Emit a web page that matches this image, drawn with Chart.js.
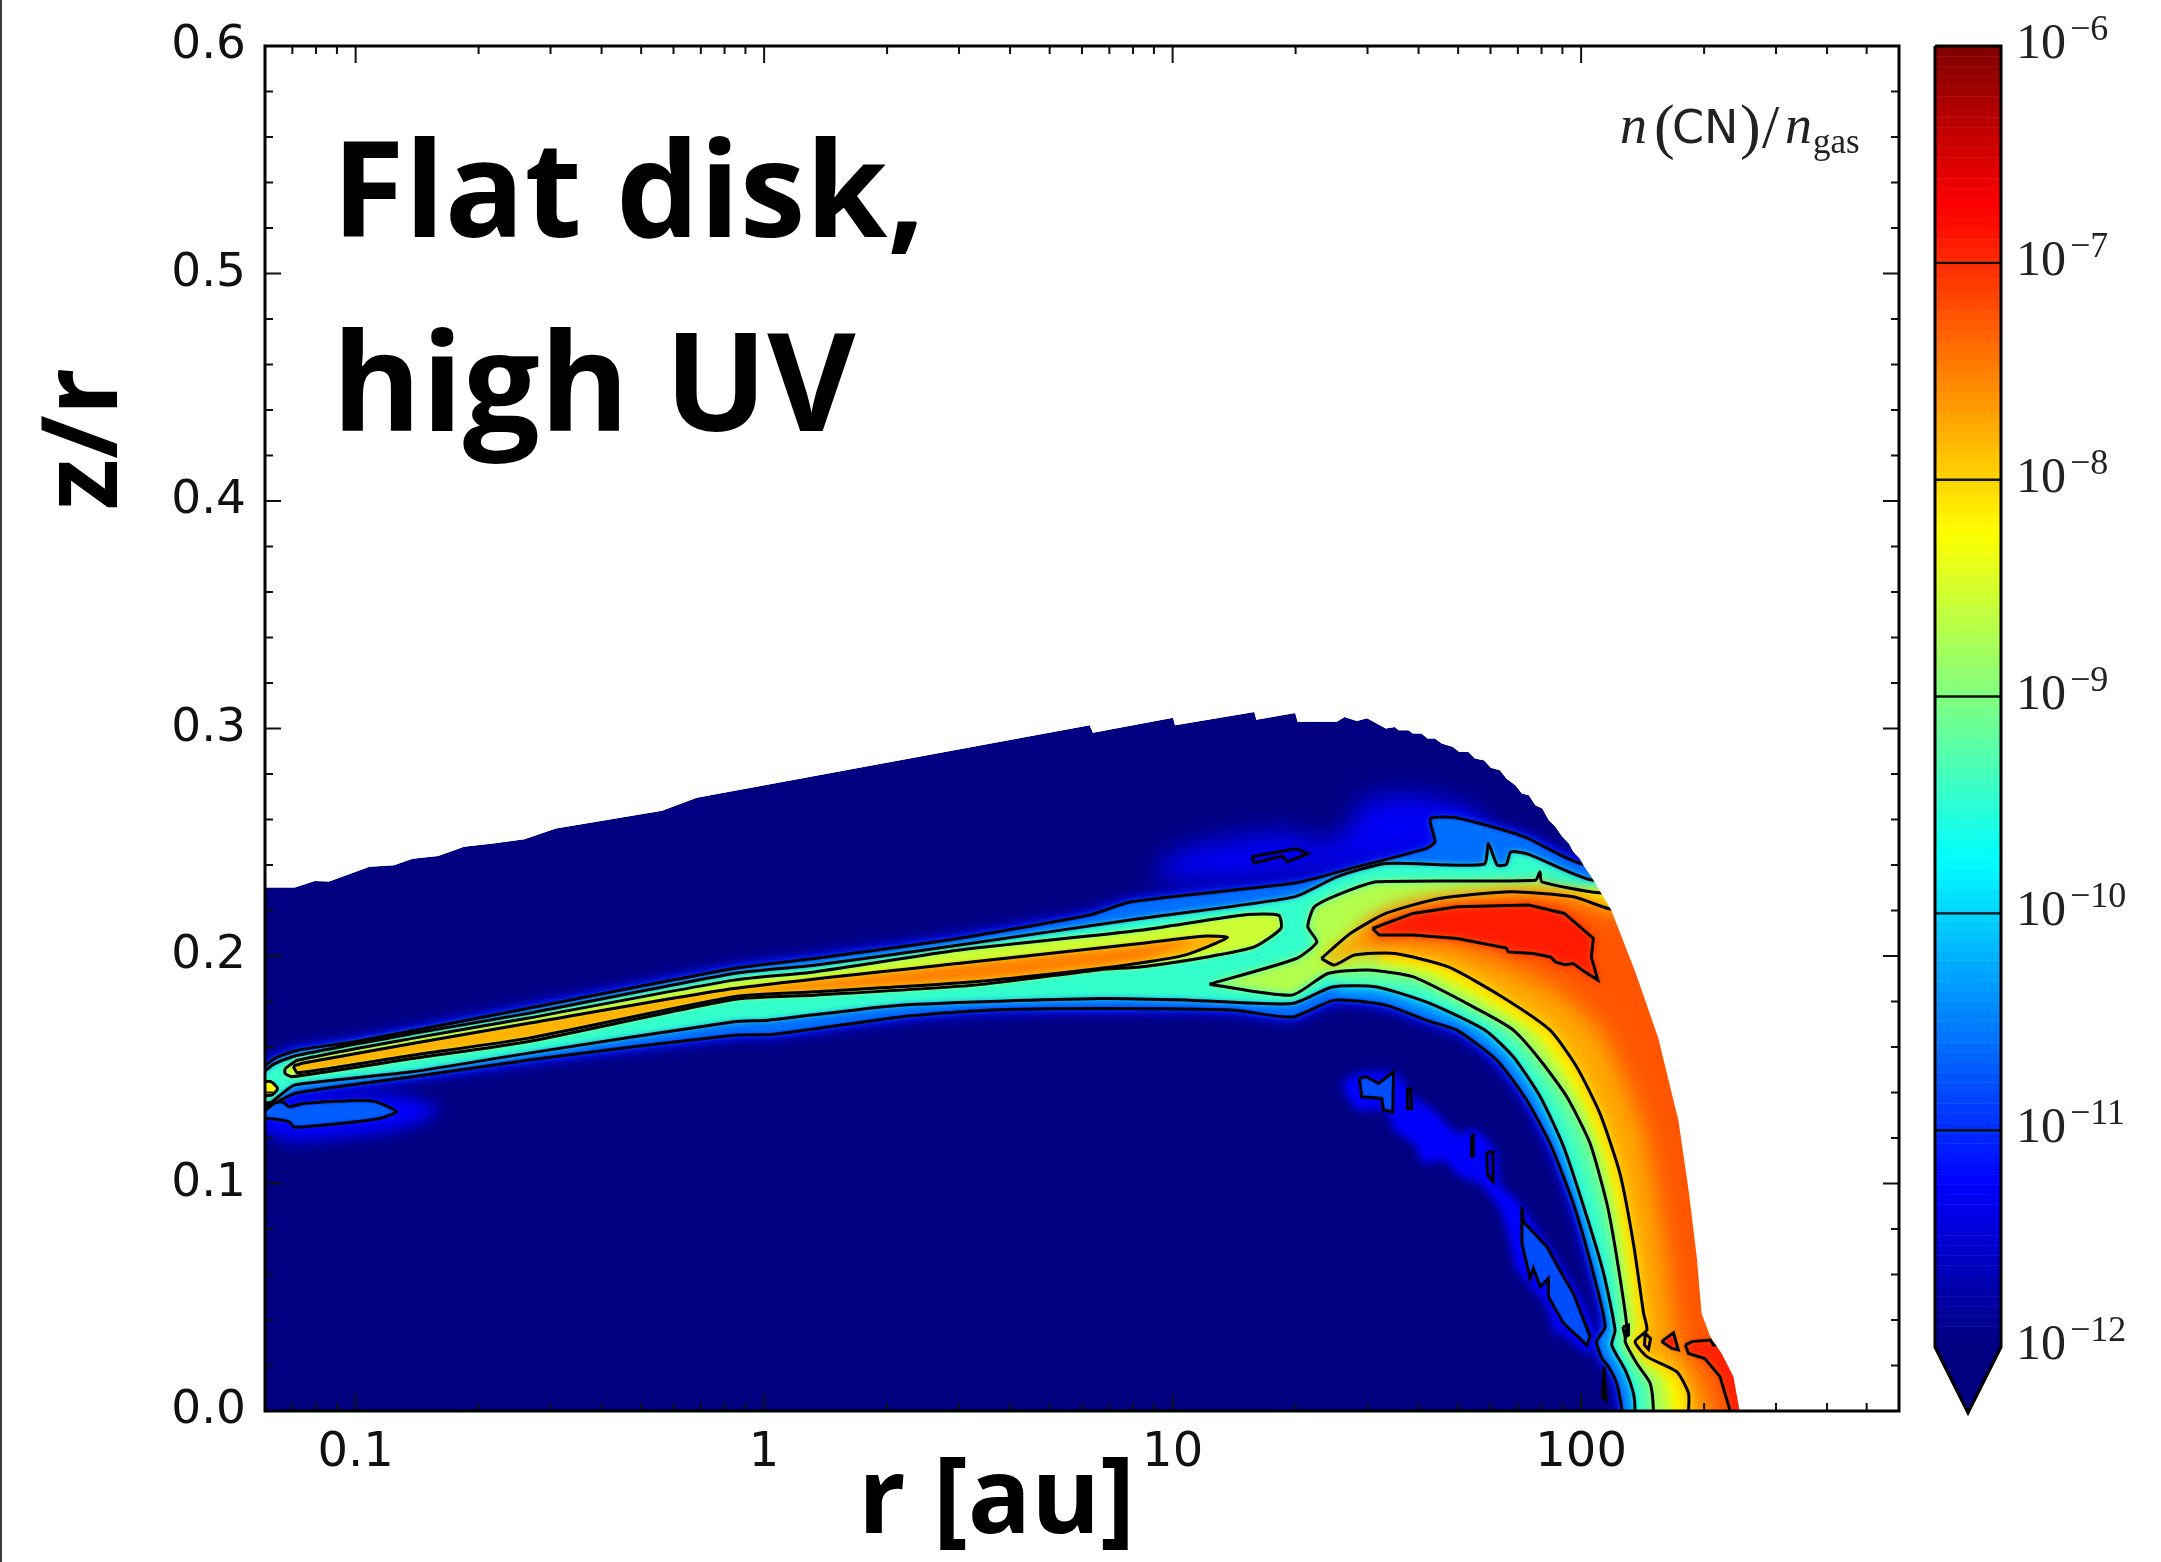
<!DOCTYPE html>
<html>
<head>
    <meta charset="UTF-8">
    <title>CN abundance</title>
    <script src="https://cdn.jsdelivr.net/npm/chart.js@4/dist/chart.umd.min.js"></script>
    <style>
        body { margin: 0; background: #fff; }
        canvas { position: absolute; top: 0; }
        #leftEdge { position: absolute; left: 0; top: 0; width: 2px; height: 1562px; background: #3c3c3c; }
    </style>
</head>
<body>
<canvas id="mainChart" width="2161" height="1562" style="left:0"></canvas>
<canvas id="barChart" width="261" height="1562" style="left:1900px"></canvas>
<div id="leftEdge"></div>

<script>
    // axis ticks
    var xMajorTicks = [0.1, 1, 10, 100];
    var xMinorTicks = [0.06, 0.07, 0.08, 0.09, 0.2, 0.3, 0.4, 0.5, 0.6, 0.7, 0.8, 0.9, 2, 3, 4, 5, 6, 7, 8, 9,
        20, 30, 40, 50, 60, 70, 80, 90, 200, 300, 400, 500, 600];
    var yMajorTicks = [0, 0.1, 0.2, 0.3, 0.4, 0.5, 0.6];
    var yMinorTicks = [0.02, 0.04, 0.06, 0.08, 0.12, 0.14, 0.16, 0.18, 0.22, 0.24, 0.26, 0.28, 0.32, 0.34, 0.36, 0.38,
        0.42, 0.44, 0.46, 0.48, 0.52, 0.54, 0.56, 0.58];
    var barExponents = [-6, -7, -8, -9, -10, -11, -12];
    var barLines = [-7, -8, -9, -10, -11];

    // all contours are [log10(r), z/r]
    var diskEdge = [[-1.3,.2301],[-1.149,.2301],[-1.1,.233],[-1.065,.2327],[-.966,.2392],[-.906,.2399],[-.861,.2428],
        [-.798,.244],[-.735,.248],[-.664,.2494],[-.587,.2513],[-.51,.256],[-.411,.259],[-.25,.2638],[-.165,.2696],
        [.797,.3014],[.805,.2981],[1.001,.3047],[1.006,.3014],[1.2,.3073],[1.205,.3039],[1.3,.3068],[1.306,.303],
        [1.402,.303],[1.421,.3051],[1.451,.3033],[1.476,.3045],[1.522,.3],[1.544,.3007],[1.553,.2992],[1.577,.2992],
        [1.588,.2978],[1.609,.2978],[1.624,.2956],[1.642,.2956],[1.659,.2934],[1.686,.2919],[1.702,.2897],[1.724,.2897],
        [1.74,.2868],[1.762,.286],[1.779,.2828],[1.801,.2817],[1.817,.278],[1.839,.2751],[1.855,.2714],[1.872,.2707],
        [1.888,.2663],[1.905,.2648],[1.921,.2597],[1.937,.2568],[1.954,.2524],[1.97,.2494],[1.981,.2458],[1.997,.2428],
        [2.008,.2392],[2.025,.2348],[2.074,.2201],[2.134,.1923],[2.189,.1638],[2.214,.1454],[2.238,.1279],[2.263,.0971],
        [2.283,.0678],[2.295,.0429],[2.316,.0327],[2.344,.0253],[2.373,.0151],[2.388,0]];

    var level11 = [[-1.3,.15],[-1.227,.1513],[-1.198,.155],[-1.142,.1586],[-1.002,.1623],[-.58,.1769],[-.074,.1945],[.123,.1989],
        [.474,.2077],[.797,.218],[.899,.2238],[1.303,.2322],[1.435,.2384],[1.62,.2472],[1.642,.2502],[1.631,.2604],
        [1.697,.2607],[1.861,.2524],[2.006,.2404],[2.6,.24],[2.6,-.03],[2.1,-.03],[2.1,0],[2.087,.0122],[2.067,.0195],
        [2.051,.0231],[2.038,.0305],[2.059,.0371],[2.03,.0605],[1.981,.0912],[1.924,.1176],[1.867,.1366],[1.794,.1542],
        [1.696,.1674],[1.62,.1718],[1.522,.1784],[1.396,.1806],[1.293,.1732],[1.15,.1762],[.8225,.1769],[.544,.1762],
        [.333,.1732],[.024,.1656],[-.074,.1652],[-.58,.1542],[-.861,.1469],[-1.142,.1399],[-1.198,.1353],[-1.227,.1316],[-1.3,.13]];
    var level10 = [[-1.3,.147],[-1.227,.1491],[-1.198,.1527],[-1.142,.1564],[-.861,.1659],[-.58,.1747],[-.074,.1923],[.123,.1959],
        [.474,.2047],[.921,.2165],[1.298,.226],[1.402,.2348],[1.522,.2407],[1.762,.2403],[1.773,.2494],[1.795,.2399],
        [1.817,.2403],[1.828,.2458],[1.872,.2447],[2.03,.2333],[2.6,.23],[2.6,-.03],[2.132,-.03],[2.132,0],[2.128,.0078],
        [2.108,.018],[2.075,.029],[2.083,.0356],[2.055,.0605],[2.014,.0854],[1.957,.1162],[1.9,.1381],[1.834,.1557],
        [1.765,.1674],[1.631,.1791],[1.5,.1864],[1.391,.1864],[1.293,.1791],[1.041,.1806],[.8225,.1813],
        [.333,.1784],[.01,.1718],[-.074,.1711],[-.58,.1572],[-.861,.1491],[-1.149,.1433],[-1.184,.1389],[-1.227,.133],[-1.3,.13]];

    var wedge9 = [[-1.173,.1505],[-1.142,.1542],[-.861,.1638],[-.58,.1726],[-.074,.1894],[.123,.193],[.474,.2025],[.921,.2113],
        [1.183,.2182],[1.26,.2179],[1.265,.2121],[1.2,.204],[1.085,.1996],[.921,.1952],[.8225,.194],[.516,.1872],[.123,.1828],
        [-.074,.1809],[-.58,.1623],[-.861,.1549],[-1.156,.1469],[-1.173,.1484]];
    var wedge8 = [[-1.153,.1516],[-1.128,.153],[-.861,.1615],[-.58,.1703],[-.074,.1857],[.474,.1967],[.921,.2055],[1.074,.2087],
        [1.134,.2081],[1.03,.2004],[.866,.1955],[.516,.1887],[.123,.1843],[-.074,.1821],[-.58,.1638],[-.861,.1564],[-1.142,.1487]];
    var wedgeCore = [[-.05,.1845],[.474,.1955],[.921,.204],[1.05,.2065],[.921,.1985],[.516,.19],[.123,.1855]];

    var arc9 = [[1.09,.1876],[1.303,.1989],[1.353,.2062],[1.331,.2128],[1.347,.2216],[1.413,.2275],[1.5,.2326],[1.888,.2333],
        [1.899,.237],[1.904,.2326],[2.044,.2278],[2.6,.22],[2.6,-.03],[2.177,-.03],[2.177,0],[2.169,.0122],[2.136,.021],
        [2.108,.0305],[2.112,.0371],[2.087,.0678],[2.063,.0912],[2.022,.1176],[1.965,.1381],[1.9,.1542],[1.834,.1674],
        [1.751,.1762],[1.588,.1909],[1.478,.1938],[1.38,.1923],[1.292,.1828]];
    var arc8 = [[1.364,.1989],[1.435,.2099],[1.522,.2187],[1.653,.2253],[1.828,.2282],[1.981,.226],[2.066,.2209],[2.6,.2],[2.6,-.03],
        [2.263,-.03],[2.263,0],[2.263,.0078],[2.234,.0173],[2.161,.0239],[2.132,.0305],[2.161,.0356],[2.153,.0429],[2.128,.0737],
        [2.095,.1044],[2.046,.1308],[1.989,.1513],[1.924,.1674],[1.806,.1821],[1.675,.1952],[1.544,.2011],[1.445,.2004],[1.396,.196]];
    var arcMid = [[1.478,.2128],[1.588,.2216],[1.915,.2275],[2.068,.2201],[2.6,.2],[2.6,-.03],[2.316,-.03],[2.316,0],[2.283,.0151],
        [2.234,.0327],[2.21,.0649],[2.185,.0942],[2.152,.1235],[2.095,.1498],[2.046,.1674],[1.937,.185],[1.806,.1967],[1.697,.204],
        [1.566,.207],[1.478,.204]];
    var arc7 = [[1.489,.2121],[1.588,.2187],[1.697,.2216],[1.872,.2224],[1.959,.2187],[2.03,.2077],[2.025,.1996],[2.041,.1894],
        [2.005,.1935],[1.981,.1967],[1.96,.1962],[1.937,.1974],[1.925,.1996],[1.883,.2011],[1.822,.2018],[1.817,.2035],[1.697,.2077],[1.588,.2092],[1.506,.2092]];

    // half decade curves along the outer arc, they only shade the bands between the black lines
    var arcHalf105 = [[1.39,.1835],[1.511,.1824],[1.626,.1755],[1.73,.1674],[1.814,.155],[1.884,.1374],[1.94,.117],[1.998,.088],
        [2.042,.0605],[2.071,.0363],[2.056,.03],[2.087,.0188],[2.11,.01],[2.116,0],[2.116,-.03],[2.6,-.03],[2.6,.22],[1.8,.22],[1.45,.195]];
    var arcHalf95 = [[1.385,.1893],[1.61,.185],[1.758,.1718],[1.834,.1615],[1.9,.146],[1.961,.127],[2.018,.1015],[2.059,.076],
        [2.085,.052],[2.092,.03],[2.122,.0195],[2.148,.01],[2.155,0],[2.155,-.03],[2.6,-.03],[2.6,.22],[1.9,.225],[1.5,.21]];
    var arcHalf85 = [[1.51,.1975],[1.63,.193],[1.78,.179],[1.88,.1674],[1.945,.1527],[2.005,.1345],[2.058,.111],[2.095,.0825],
        [2.12,.055],[2.136,.0363],[2.12,.03],[2.15,.0225],[2.2,.015],[2.22,0],[2.22,-.03],[2.6,-.03],[2.6,.22],[1.9,.228],[1.5,.215]];

    var lowBlob = [[-1.177,.1359],[-1.163,.1337],[-1.128,.1352],[-.959,.1363],[-.9,.1315],[-.952,.1282],[-1.149,.1247],[-1.163,.1272],
        [-1.219,.1286],[-1.3,.1286],[-1.3,.134]];
    var blobGlow = [[-1.3,.14],[-.945,.1395],[-.861,.1373],[-.791,.1323],[-.861,.1257],[-.945,.122],[-1.156,.1184],[-1.219,.122],[-1.3,.122]];
    var spot9 = [[-1.205,.1447],[-1.191,.1418],[-1.205,.1389],[-1.3,.1381],[-1.3,.1454]];

    var island1 = [[1.855,.0898],[1.859,.0832],[1.916,.0722],[1.957,.059],[1.981,.0517],[2.022,.0327],[2.014,.029],[1.957,.0385],
        [1.92,.0502],[1.92,.0583],[1.9,.0546],[1.883,.0627],[1.875,.0583],[1.855,.0737]];
    var island2 = [[1.457,.1462],[1.475,.1469],[1.504,.144],[1.541,.1491],[1.539,.1315],[1.516,.1323],[1.512,.1374],[1.463,.1381]];
    var island3 = [[1.575,.1418],[1.583,.1418],[1.585,.133],[1.575,.133]];
    var island4 = [[1.732,.1213],[1.736,.1213],[1.736,.112],[1.732,.112]];
    var island5 = [[1.769,.1139],[1.784,.1139],[1.785,.1008],[1.771,.1037]];
    var topIsland = [[1.194,.2436],[1.303,.2472],[1.331,.245],[1.281,.2414],[1.268,.2439],[1.2,.2409]];
    var redBlob = [[2.197,.0305],[2.226,.0344],[2.238,.0268],[2.222,.0275]];
    var redFoot = [[2.255,.029],[2.271,.0305],[2.316,.0312],[2.324,.029],[2.6,.03],[2.6,-.03],[2.365,-.03],[2.365,0],[2.34,.0151],
        [2.303,.0231],[2.263,.0253]];
    var smallLoop1 = [[2.102,.037],[2.116,.0378],[2.116,.0334],[2.108,.0324]];
    var smallLoop2 = [[2.157,.0341],[2.17,.0319],[2.165,.0271],[2.155,.029]];
    var footSpike = [[2.056,.0195],[2.061,.0048],[2.053,.0063]];

    var blueStreak = [[1.418,.1454],[1.467,.1491],[1.549,.1484],[1.59,.1381],[1.639,.1323],[1.696,.122],[1.745,.1235],[1.794,.1132],
        [1.802,.0998],[1.851,.0912],[1.989,.0532],[2.038,.0312],[2.014,.0253],[1.94,.0356],[1.94,.0283],[1.916,.0458],[1.843,.0619],
        [1.822,.0766],[1.802,.0883],[1.753,.0998],[1.704,.103],[1.663,.1103],[1.614,.1088],[1.59,.1176],[1.541,.1235],[1.524,.1323],
        [1.451,.1323],[1.418,.141]];
    var topGlow = [[.965,.2406],[1.041,.248],[1.282,.2546],[1.369,.2494],[1.435,.2568],[1.467,.2685],[1.609,.2707],[1.762,.2612],
        [1.697,.248],[1.435,.2392],[1.15,.2333],[.965,.2333]];

    function clamp(v) { return Math.max(0, Math.min(1, v)); }

    // matplotlib jet, level is log10 of the abundance
    function cmap(level) {
        var t = (level + 12) / 6;
        var r = clamp(Math.min(4 * t - 1.5, -4 * t + 4.5));
        var g = clamp(Math.min(4 * t - 0.5, -4 * t + 3.5));
        var b = clamp(Math.min(4 * t + 0.5, -4 * t + 2.5));
        return 'rgb(' + Math.round(r * 255) + ',' + Math.round(g * 255) + ',' + Math.round(b * 255) + ')';
    }

    function toPoints(list) {
        return list.map(function (p) { return { x: Math.pow(10, p[0]), y: p[1] }; });
    }

    function fillLayer(list, color, blur, tension) {
        return { data: toPoints(list), showLine: true, pointRadius: 0, borderWidth: 0, fill: 'shape',
            backgroundColor: color, blur: blur, tension: tension === undefined ? 0.2 : tension };
    }

    function lineLayer(list, tension) {
        return { data: toPoints(list.concat([list[0]])), showLine: true, pointRadius: 0, borderWidth: 3,
            borderColor: '#000', fill: false, tension: tension || 0 };
    }

    // bottom layer first, reversed below because chart.js draws the last dataset first
    var layers = [
        fillLayer(diskEdge.concat([[2.388,-.03],[-1.3,-.03]]), 'rgb(0,0,128)', 0, 0),
        fillLayer(topGlow, cmap(-11.3), 13),
        fillLayer(blueStreak, cmap(-11.25), 4),
        fillLayer(level11, cmap(-11.15), 9),
        fillLayer(level11, cmap(-11.15), 6),
        fillLayer(level11, cmap(-11.15), 4),
        fillLayer(blobGlow, cmap(-11.25), 8),
        fillLayer(level11, cmap(-10.6), 2.5),
        fillLayer(lowBlob, cmap(-10.7), 2),
        fillLayer(island1, cmap(-10.8), 1.5, 0),
        fillLayer(island2, cmap(-10.8), 1.5, 0),
        fillLayer(arcHalf105, cmap(-10.2), 5),
        fillLayer(level10, cmap(-9.45), 3),
        fillLayer(arcHalf95, cmap(-9.2), 5),
        fillLayer(spot9, cmap(-8.2), 1.5),
        fillLayer(wedge9, cmap(-8.55), 2.5),
        fillLayer(arc9, cmap(-8.7), 4),
        fillLayer(arcHalf85, cmap(-8.2), 5),
        fillLayer(wedge8, cmap(-7.8), 2),
        fillLayer(wedgeCore, cmap(-7.5), 3),
        fillLayer(arc8, cmap(-7.75), 7),
        fillLayer(arcMid, cmap(-7.25), 12),
        fillLayer(arc7, cmap(-6.9), 5),
        fillLayer(redBlob, cmap(-6.9), 2, 0),
        fillLayer(redFoot, cmap(-6.95), 3),
        lineLayer(level11, 0.2), lineLayer(level10, 0.2), lineLayer(wedge9, 0.2), lineLayer(wedge8, 0.2),
        lineLayer(arc9, 0.2), lineLayer(arc8, 0.2), lineLayer(arc7), lineLayer(lowBlob, 0.2), lineLayer(spot9, 0.2),
        lineLayer(island1), lineLayer(island2), lineLayer(island3), lineLayer(island4), lineLayer(island5),
        lineLayer(topIsland), lineLayer(redBlob), lineLayer(redFoot), lineLayer(smallLoop1), lineLayer(smallLoop2),
        lineLayer(footSpike),
        // white mask over everything outside the disk
        fillLayer(diskEdge.concat([[2.388,-.03],[2.9,-.03],[2.9,.65],[-1.3,.65]]), '#fff', 0, 0)
    ];

    // filler runs before inline plugins in beforeDatasetDraw, so the filter is set when the previous dataset ends
    function filterFor(dataset) {
        return dataset && dataset.blur ? 'blur(' + dataset.blur + 'px)' : 'none';
    }
    var blurPlugin = {
        id: 'blurLayers',
        beforeDatasetsDraw: function (chart) {
            var sets = chart.data.datasets;
            chart.ctx.filter = filterFor(sets[sets.length - 1]);
        },
        afterDatasetDraw: function (chart, args) {
            chart.ctx.filter = filterFor(chart.data.datasets[args.index - 1]);
        },
        afterDatasetsDraw: function (chart) { chart.ctx.filter = 'none'; }
    };

    // matplotlib style frame, ticks point inwards on all four sides
    var framePlugin = {
        id: 'frame',
        afterDatasetsDraw: function (chart) {
            var ctx = chart.ctx, a = chart.chartArea, sx = chart.scales.x, sy = chart.scales.y;
            function xTick(v, len) {
                var p = sx.getPixelForValue(v);
                ctx.moveTo(p, a.bottom); ctx.lineTo(p, a.bottom - len);
                ctx.moveTo(p, a.top); ctx.lineTo(p, a.top + len);
            }
            function yTick(v, len) {
                var p = sy.getPixelForValue(v);
                ctx.moveTo(a.left, p); ctx.lineTo(a.left + len, p);
                ctx.moveTo(a.right, p); ctx.lineTo(a.right - len, p);
            }
            ctx.save();
            ctx.strokeStyle = '#111';
            ctx.lineWidth = 2;
            ctx.beginPath();
            xMajorTicks.forEach(function (v) { xTick(v, 17); });
            xMinorTicks.forEach(function (v) { xTick(v, 8); });
            yMajorTicks.forEach(function (v) { yTick(v, 16); });
            yMinorTicks.forEach(function (v) { yTick(v, 8); });
            ctx.stroke();
            ctx.lineWidth = 3;
            ctx.strokeStyle = '#000';
            ctx.strokeRect(a.left, a.top, a.right - a.left, a.bottom - a.top);
            ctx.restore();
        }
    };

    var textPlugin = {
        id: 'bigText',
        afterDraw: function (chart) {
            var ctx = chart.ctx;
            ctx.save();
            ctx.fillStyle = '#000';
            ctx.textBaseline = 'alphabetic';
            ctx.font = 'bold 132px "Open Sans"';
            ctx.fillText('Flat disk,', 332, 237);
            ctx.font = 'bold 136px "Open Sans"';
            ctx.fillText('high UV', 332, 431);
            ctx.font = 'bold 105px "Open Sans"';
            ctx.fillText('r [au]', 858, 1533);
            ctx.save();
            ctx.translate(117, 510);
            ctx.rotate(-Math.PI / 2);
            ctx.fillText('z/r', 0, 0);
            ctx.restore();
            // n(CN)/n_gas
            ctx.fillStyle = '#222';
            ctx.font = 'italic 54px "Liberation Serif"';
            ctx.fillText('n', 1620, 143);
            ctx.fillText('n', 1785, 143);
            ctx.font = '62px "Liberation Serif"';
            ctx.fillText('(', 1654, 147);
            ctx.fillText(')', 1740, 147);
            ctx.fillText('/', 1762, 147);
            ctx.font = '46px "DejaVu Sans"';
            ctx.fillText('CN', 1672, 143);
            ctx.font = '35px "Liberation Serif"';
            ctx.fillText('gas', 1813, 153);
            ctx.restore();
        }
    };

    new Chart(document.getElementById('mainChart'), {
        type: 'scatter',
        data: { datasets: layers.slice().reverse() },
        plugins: [blurPlugin, framePlugin, textPlugin],
        options: {
            responsive: false,
            animation: false,
            devicePixelRatio: 1,
            layout: { autoPadding: false, padding: { top: 46, right: 262, left: 0, bottom: 0 } },
            plugins: { legend: { display: false }, tooltip: { enabled: false } },
            scales: {
                x: {
                    type: 'logarithmic', min: 0.06, max: 600, bounds: 'data',
                    grid: { display: false }, border: { display: false },
                    afterFit: function (s) { s.height = 151; },
                    afterBuildTicks: function (s) { s.ticks = xMajorTicks.map(function (v) { return { value: v }; }); },
                    ticks: { autoSkip: false, maxRotation: 0, color: '#111', padding: 6,
                        font: { family: 'DejaVu Sans', size: 48 },
                        callback: function (v) { return String(v); } }
                },
                y: {
                    type: 'linear', min: 0, max: 0.6,
                    grid: { display: false }, border: { display: false },
                    afterFit: function (s) { s.width = 265; },
                    afterBuildTicks: function (s) { s.ticks = yMajorTicks.map(function (v) { return { value: v }; }); },
                    ticks: { autoSkip: false, color: '#111', padding: 11,
                        font: { family: 'DejaVu Sans', size: 47 },
                        callback: function (v) { return v.toFixed(1); } }
                }
            }
        }
    });

    // colour bar, second chart with x 0..1 and the log abundance on y
    var barMin = Math.pow(10, -12.304);
    var barSets = [];
    var barSteps = 128;
    for (var i = 0; i < barSteps; i++) {
        var lo = -12 + 6 * i / barSteps, hi = -12 + 6 * (i + 1) / barSteps;
        barSets.push({ data: [{ x: 0, y: Math.pow(10, lo) }, { x: 1, y: Math.pow(10, lo) }, { x: 1, y: Math.pow(10, hi) }, { x: 0, y: Math.pow(10, hi) }],
            showLine: true, pointRadius: 0, borderWidth: 0.6, borderColor: cmap(lo + 3 / barSteps), fill: 'shape', backgroundColor: cmap(lo + 3 / barSteps) });
    }
    barSets.push({ data: [{ x: 0, y: 1e-12 }, { x: 1, y: 1e-12 }, { x: 0.5, y: barMin }], showLine: true, pointRadius: 0, borderWidth: 0,
        fill: 'shape', backgroundColor: 'rgb(0,0,128)' });
    barLines.forEach(function (e) {
        barSets.push({ data: [{ x: 0, y: Math.pow(10, e) }, { x: 1, y: Math.pow(10, e) }], showLine: true, pointRadius: 0, borderWidth: 2.4, borderColor: '#111', fill: false });
    });
    barSets.push({ data: [{ x: 0, y: 1e-6 }, { x: 1, y: 1e-6 }, { x: 1, y: 1e-12 }, { x: 0.5, y: barMin }, { x: 0, y: 1e-12 }, { x: 0, y: 1e-6 }],
        showLine: true, pointRadius: 0, borderWidth: 3, borderColor: '#000', fill: false, clip: 6 });

    var barLabels = {
        id: 'barLabels',
        afterDraw: function (chart) {
            var ctx = chart.ctx, sy = chart.scales.y;
            ctx.save();
            ctx.fillStyle = '#222';
            barExponents.forEach(function (e) {
                var p = sy.getPixelForValue(Math.pow(10, e));
                ctx.font = '50px "Liberation Serif"';
                ctx.fillText('10', 116, p + 12);
                ctx.font = '36px "Liberation Serif"';
                ctx.fillText('\u2212' + Math.abs(e), 170, p - 6);
            });
            ctx.restore();
        }
    };

    new Chart(document.getElementById('barChart'), {
        type: 'scatter',
        data: { datasets: barSets.slice().reverse() },
        plugins: [barLabels],
        options: {
            responsive: false,
            animation: false,
            devicePixelRatio: 1,
            layout: { autoPadding: false, padding: { top: 46, left: 35, right: 160, bottom: 149 } },
            plugins: { legend: { display: false }, tooltip: { enabled: false } },
            scales: {
                x: { type: 'linear', min: 0, max: 1, display: false },
                y: { type: 'logarithmic', min: barMin, max: 1e-6, display: false, bounds: 'data' }
            }
        }
    });
</script>

</body>
</html>
